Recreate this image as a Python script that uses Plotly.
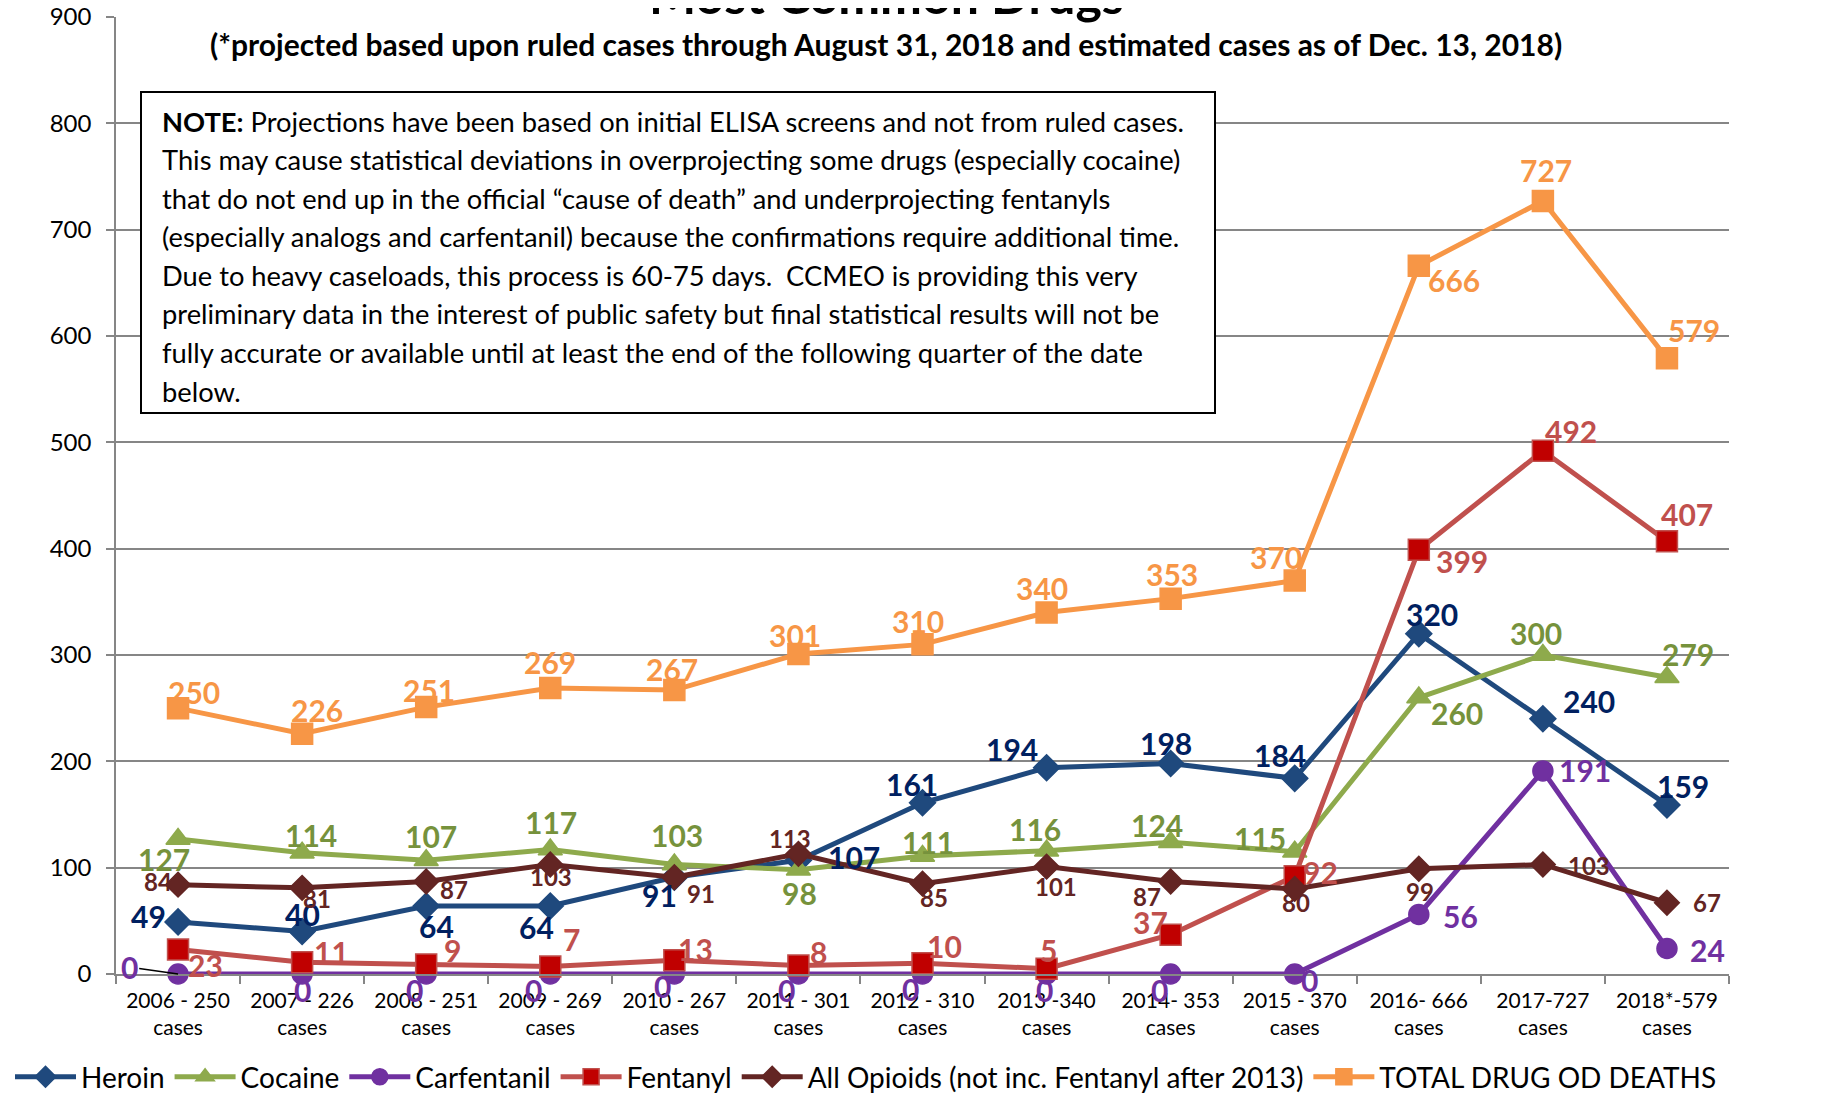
import plotly.graph_objects as go

# ---------------- data ----------------
categories = [
    "2006 - 250<br>cases", "2007 - 226<br>cases", "2008 - 251<br>cases",
    "2009 - 269<br>cases", "2010 - 267<br>cases", "2011 - 301<br>cases",
    "2012 - 310<br>cases", "2013 -340<br>cases", "2014- 353<br>cases",
    "2015 - 370<br>cases", "2016- 666<br>cases", "2017-727<br>cases",
    "2018*-579<br>cases",
]
heroin = [49, 40, 64, 64, 91, 107, 161, 194, 198, 184, 320, 240, 159]
cocaine = [127, 114, 107, 117, 103, 98, 111, 116, 124, 115, 260, 300, 279]
carfentanil = [0, 0, 0, 0, 0, 0, 0, 0, 0, 0, 56, 191, 24]
fentanyl = [23, 11, 9, 7, 13, 8, 10, 5, 37, 92, 399, 492, 407]
all_opioids = [84, 81, 87, 103, 91, 113, 85, 101, 87, 80, 99, 103, 67]
total = [250, 226, 251, 269, 267, 301, 310, 340, 353, 370, 666, 727, 579]

y_ticks = [0, 100, 200, 300, 400, 500, 600, 700, 800, 900]

title_text = "Most Common Drugs"
subtitle_text = "(*projected based upon ruled cases through August 31, 2018 and estimated cases as of Dec. 13, 2018)"
note_lines = [
    "<b>NOTE:</b> Projections have been based on initial ELISA screens and not from ruled cases.",
    "This may cause statistical deviations in overprojecting some drugs (especially cocaine)",
    "that do not end up in the official \u201ccause of death\u201d and underprojecting fentanyls",
    "(especially analogs and carfentanil) because the confirmations require additional time.",
    "Due to heavy caseloads, this process is 60-75 days.  CCMEO is providing this very",
    "preliminary data in the interest of public safety but final statistical results will not be",
    "fully accurate or available until at least the end of the following quarter of the date",
    "below.",
]

# ---------------- styles ----------------
FONT = "Lato"
S = 1.163  # offsets measured on a 1568px-wide copy
PAGE = 8   # browser body margin

series = [
    dict(name="Heroin", y=heroin, line="#1F497D", mfill="#1F497D", mline="#1F497D",
         symbol="diamond", size=20, lab="#002060", fs=30,
         off=[(-25, -5), (0, -15), (9, 17), (-12, 18), (-13, 15), (48, -3), (-9, -16),
              (-30, -16), (-4, -18), (-13, -20), (11, -17), (40, -15), (14, -16)]),
    dict(name="Cocaine", y=cocaine, line="#8EAA4C", mfill="#8EAA4C", mline="#8EAA4C",
         symbol="triangle-up", size=21, lab="#76923C", fs=30,
         off=[(-12, 17), (8, -15), (4, -21), (1, -24), (2, -25), (1, 20), (5, -12),
              (-10, -19), (-12, -15), (-30, -12), (33, 13), (-6, -19), (18, -20)]),
    dict(name="Carfentanil", y=carfentanil, line="#7030A0", mfill="#7030A0", mline="#7030A0",
         symbol="circle", size=20, lab="#7030A0", fs=30,
         off=[(-42, -6), (0, 14), (-10, 14), (-14, 14), (-10, 10), (-10, 14), (-10, 13),
              (-2, 14), (-10, 14), (13, 5), (36, 1), (36, -1), (35, 1)]),
    dict(name="Fentanyl", y=fentanyl, line="#C0504D", mfill="#C00000", mline="#C0504D",
         symbol="square", size=21, lab="#C0504D", fs=30,
         off=[(24, 13), (25, -9), (23, -12), (18, -24), (18, -10), (17, -12), (19, -15),
              (2, -16), (-17, -11), (22, -4), (37, 10), (24, -17), (17, -23)]),
    dict(name="All Opioids (not inc. Fentanyl after 2013)", y=all_opioids, line="#632523",
         mfill="#632523", mline="#632523", symbol="diamond", size=19, lab="#632523", fs=24,
         off=[(-17, -3), (13, 9), (24, 7), (1, 10), (23, 14), (-7, -13), (10, 12),
              (8, 17), (-20, 13), (1, 12), (1, 20), (40, 1), (34, 0)]),
    dict(name="TOTAL DRUG OD DEATHS", y=total, line="#F79646", mfill="#F79646", mline="#F79646",
         symbol="square", size=21, lab="#F79646", fs=30,
         off=[(14, -14), (13, -20), (2, -15), (0, -22), (-2, -18), (-3, -16), (-4, -20),
              (-4, -21), (1, -21), (-16, -20), (30, 12), (3, -27), (23, -24)]),
]

fig = go.Figure()
annotations = []
for s in series:
    fig.add_trace(go.Scatter(
        x=categories, y=s["y"], name=s["name"], mode="lines+markers",
        line=dict(color=s["line"], width=5),
        marker=dict(symbol=s["symbol"], size=s["size"], color=s["mfill"],
                    line=dict(color=s["mline"], width=1.5)),
        cliponaxis=False,
    ))
    for i, (cat, v) in enumerate(zip(categories, s["y"])):
        dx, dy = s["off"][i]
        a = dict(x=cat, y=v, xref="x", yref="y", text=str(v), showarrow=False,
                 xanchor="center", yanchor="middle",
                 xshift=dx * S, yshift=-dy * S,
                 font=dict(family=FONT, size=s["fs"], color=s["lab"], weight="bold"))
        if s["name"] == "Carfentanil" and i == 0:
            a.update(showarrow=True, ax=dx * S, ay=dy * S, xshift=0, yshift=0,
                     arrowhead=0, arrowwidth=1.5, arrowcolor="black", standoff=0)
        annotations.append(a)

# plot area in target-screen pixels
L, R, T, B = 116, 1729, 17, 974
W, H = R - L, B - T
FW, FH = 1823 - PAGE, 1095 - PAGE


def px(xp):
    return (xp - L) / W


def py(yp):
    return (B - yp) / H


annotations.append(dict(xref="paper", yref="paper", x=px(886), y=py(27), text=f"<b>{title_text}</b>",
                        showarrow=False, xanchor="center", yanchor="bottom",
                        font=dict(family=FONT, size=50, color="black")))
annotations.append(dict(xref="paper", yref="paper", x=px(886), y=py(44), text=f"<b>{subtitle_text}</b>",
                        showarrow=False, xanchor="center", yanchor="middle",
                        font=dict(family=FONT, size=30, color="black")))
for i, line in enumerate(note_lines):
    annotations.append(dict(xref="paper", yref="paper", x=px(160), y=py(121 + 38.6 * i), text=line,
                            showarrow=False, xanchor="left", yanchor="middle",
                            font=dict(family=FONT, size=27.3, color="black")))

shapes = [dict(type="rect", xref="paper", yref="paper", x0=px(141), x1=px(1215), y0=py(413), y1=py(92),
               line=dict(color="black", width=2), fillcolor="white", layer="above")]

fig.update_layout(
    width=FW, height=FH,
    margin=dict(l=L - PAGE, r=FW - (R - PAGE), t=T - PAGE, b=FH - (B - PAGE), autoexpand=False),
    paper_bgcolor="white", plot_bgcolor="white",
    font=dict(family=FONT, color="black"),
    showlegend=True,
    legend=dict(orientation="h", x=px(10), xanchor="left", y=py(1077), yanchor="middle",
                font=dict(family=FONT, size=28, color="black"), itemwidth=61,
                traceorder="normal", bgcolor="rgba(0,0,0,0)"),
    xaxis=dict(type="category", range=[-0.5, 12.5], showgrid=False, showline=True,
               linecolor="#868686", linewidth=1.5, ticks="outside", tickson="boundaries",
               ticklen=8, tickcolor="#868686", tickwidth=1.5, ticklabelstandoff=7, tickangle=0,
               tickfont=dict(family=FONT, size=21, color="black")),
    yaxis=dict(range=[0, 900], tickvals=y_ticks, showgrid=True, gridcolor="#868686", gridwidth=1.5,
               showline=True, linecolor="#868686", linewidth=1.5, ticks="outside", ticklen=8,
               tickcolor="#868686", tickwidth=1.5, zeroline=False, ticklabelstandoff=10,
               ticklabeloverflow="allow",
               tickfont=dict(family=FONT, size=24, color="black")),
    annotations=annotations,
    shapes=shapes,
)

fig.write_html("out.html")
